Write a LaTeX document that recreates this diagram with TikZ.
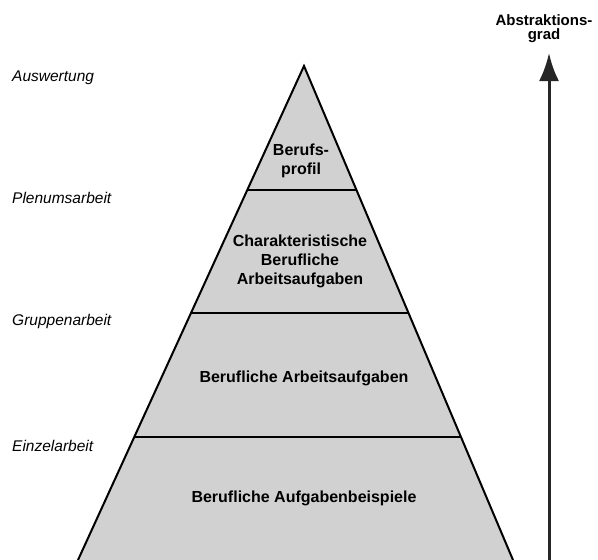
\documentclass[tikz,border=0pt]{standalone}
\usepackage{fontspec}
\setmainfont{Liberation Sans}
\usetikzlibrary{positioning,arrows.meta}

\tikzset{
  layer/.style={font=\fontsize{16}{19}\selectfont\bfseries, align=center, inner sep=0pt},
  phase/.style={font=\fontsize{15.5}{19}\selectfont\itshape, anchor=west, inner sep=0pt},
}

\begin{document}
\begin{tikzpicture}[x=1pt, y=-1pt, line join=miter]
\useasboundingbox (0,0) rectangle (598,560);

% pyramid corners
\coordinate (apex) at (304,66);
\coordinate (l1) at (247,190);  \coordinate (r1) at (356,190);
\coordinate (l2) at (191,313);  \coordinate (r2) at (408,313);
\coordinate (l3) at (135,437);  \coordinate (r3) at (461,437);
\coordinate (l4) at (78,560);   \coordinate (r4) at (513,560);

\fill[black!18] (apex) -- (r4) -- (l4) -- cycle;
\draw[line width=2pt] (l4) -- (apex) -- (r4);
\draw[line width=1.8pt] (l1) -- (r1);
\draw[line width=1.8pt] (l2) -- (r2);
\draw[line width=1.8pt] (l3) -- (r3);

\node[layer] (profil) at (301,161) {Berufs-\\profil};
\node[layer] (chara) at (300,261) {Charakteristische\\Berufliche\\Arbeitsaufgaben};
\node[layer] (arbeit) at (304,378) {Berufliche Arbeitsaufgaben};
\node[layer] (beisp) at (304,498) {Berufliche Aufgabenbeispiele};

\node[phase] (ausw) at (12,78) {Auswertung};
\node[phase] (plenum) at (12,198) {Plenumsarbeit};
\node[phase] (gruppe) at (12,321) {Gruppenarbeit};
\node[phase] (einzel) at (12,446) {Einzelarbeit};

% abstraction axis
\coordinate (abase) at (549,560);
\coordinate (atip) at (549,53);
\node[layer, font=\fontsize{15}{14.5}\selectfont\bfseries, above=10pt of atip, xshift=-5pt] (grad) {Abstraktions-\\grad};
\draw[line width=3pt, black!85, -{Latex[length=28pt,width=20pt]}] (abase) -- (atip);
\end{tikzpicture}
\end{document}
